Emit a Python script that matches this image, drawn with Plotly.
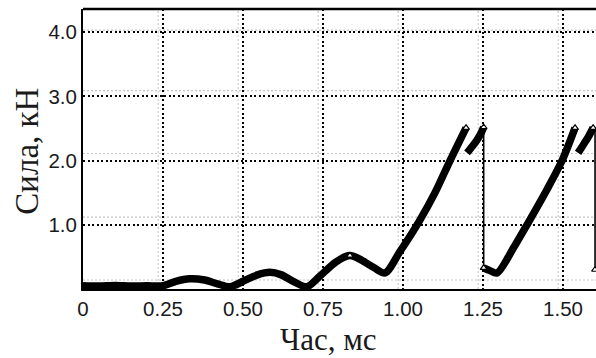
import plotly.graph_objects as go

# Force trace: thick recorded curve, split into segments (None = gap)
time_ms = [
    0.0, 0.05, 0.10, 0.15, 0.20, 0.25, 0.29, 0.334, 0.38, 0.42, 0.46,
    0.50, 0.545, 0.584, 0.62, 0.66, 0.70, 0.74, 0.79, 0.834, 0.87, 0.91,
    0.944, 0.99, 1.05, 1.10, 1.147, 1.197,
    None,
    1.200, 1.21, 1.231, 1.241, 1.252,
    None,
    1.252, 1.27, 1.294, 1.344, 1.3875, 1.45, 1.497, 1.5375,
    None,
    1.547, 1.56, 1.578, 1.594,
]
force_kn = [
    0.05, 0.045, 0.055, 0.045, 0.05, 0.05, 0.12, 0.16, 0.14, 0.08, 0.035,
    0.12, 0.22, 0.26, 0.22, 0.11, 0.035, 0.2, 0.42, 0.52, 0.45, 0.33,
    0.25, 0.58, 1.05, 1.50, 2.0, 2.51,
    None,
    2.12, 2.18, 2.32, 2.40, 2.52,
    None,
    0.33, 0.29, 0.25, 0.63, 1.0, 1.55, 2.0, 2.51,
    None,
    2.12, 2.22, 2.36, 2.51,
]

# Sharp unloading drops (thin lines)
drop_t = [1.252, 1.252, None, 1.60, 1.60]
drop_f = [2.52, 0.33, None, 2.51, 0.30]

# Marked points (open triangles)
mark_t = [0.834, 1.197, 1.252, 1.252, 1.5375, 1.594, 1.60]
mark_f = [0.52, 2.51, 2.52, 0.33, 2.51, 2.51, 0.30]

x_ticks = [0, 0.25, 0.50, 0.75, 1.00, 1.25, 1.50]
x_labels = ["0", "0.25", "0.50", "0.75", "1.00", "1.25", "1.50"]
y_ticks = [1.0, 2.0, 3.0, 4.0]
y_labels = ["1.0", "2.0", "3.0", "4.0"]

# faint secondary grid
shadow_y = [0.14, 1.12, 2.11, 3.09, 4.03]
shadow_x = [0.235, 0.485, 0.735, 0.985, 1.235, 1.485]

X_MAX = 1.603
Y_MAX = 4.36

fig = go.Figure()

fig.add_trace(go.Scatter(
    x=time_ms, y=force_kn, mode="lines",
    line=dict(color="black", width=7.5, shape="spline", smoothing=0.8),
    connectgaps=False, hoverinfo="skip", showlegend=False,
))
fig.add_trace(go.Scatter(
    x=drop_t, y=drop_f, mode="lines",
    line=dict(color="black", width=1.6),
    connectgaps=False, hoverinfo="skip", showlegend=False,
))
fig.add_trace(go.Scatter(
    x=mark_t, y=mark_f, mode="markers",
    marker=dict(symbol="triangle-up", size=6, color="white",
                line=dict(color="black", width=1.2)),
    hoverinfo="skip", showlegend=False,
))

shapes = []
for yv in shadow_y:
    shapes.append(dict(type="line", xref="x", yref="y", x0=0, x1=X_MAX,
                       y0=yv, y1=yv, layer="below",
                       line=dict(color="#c4c4c4", width=1.2, dash="2px,2px")))
for xv in shadow_x:
    shapes.append(dict(type="line", xref="x", yref="y", x0=xv, x1=xv,
                       y0=0, y1=Y_MAX, layer="below",
                       line=dict(color="#cfcfcf", width=1.2, dash="2px,2px")))
# top frame line
shapes.append(dict(type="line", xref="paper", yref="paper", x0=0, x1=1,
                   y0=1, y1=1, line=dict(color="black", width=2.5)))

fig.update_layout(
    width=596, height=358,
    margin=dict(l=83, r=0, t=9, b=69),
    paper_bgcolor="white", plot_bgcolor="white",
    shapes=shapes,
    font=dict(family="Liberation Sans, Arial, sans-serif", color="#1a1a1a"),
    xaxis=dict(
        range=[0, X_MAX], tickvals=x_ticks, ticktext=x_labels,
        showgrid=True, gridcolor="black", gridwidth=1.6, griddash="2px,2.5px",
        showline=True, linecolor="black", linewidth=2,
        ticks="", tickfont=dict(size=20.5, color="#1a1a1a"),
        zeroline=False, fixedrange=True,
    ),
    yaxis=dict(
        range=[0, Y_MAX], tickvals=y_ticks, ticktext=y_labels,
        showgrid=True, gridcolor="black", gridwidth=1.6, griddash="2px,2.5px",
        showline=True, linecolor="black", linewidth=2,
        ticks="", tickfont=dict(size=20.5, color="#1a1a1a"),
        zeroline=False, fixedrange=True,
    ),
    annotations=[
        dict(text="Час, мс", xref="paper", yref="paper",
             x=(328 - 83) / 513, y=(289.3 - 340) / 280,
             xanchor="center", yanchor="middle", showarrow=False,
             font=dict(family="Liberation Serif, Times New Roman, serif",
                       size=31, color="#1a1a1a")),
        dict(text="Сила, кН", xref="paper", yref="paper",
             x=(27 - 83) / 513, y=(289.3 - 152) / 280, textangle=-90,
             xanchor="center", yanchor="middle", showarrow=False,
             font=dict(family="Liberation Serif, Times New Roman, serif",
                       size=33, color="#1a1a1a")),
    ],
)

fig.write_html("out.html")
